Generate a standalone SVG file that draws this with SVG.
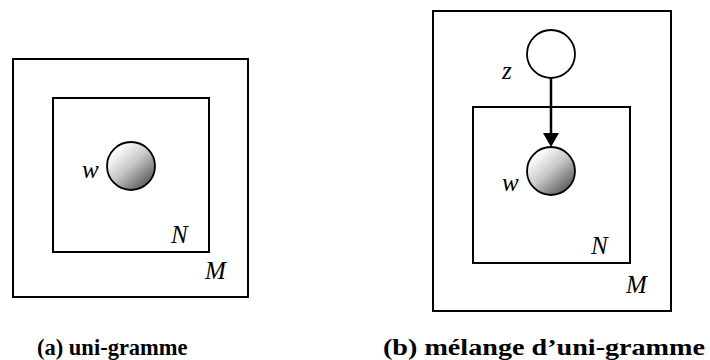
<svg xmlns="http://www.w3.org/2000/svg" width="710" height="360" viewBox="0 0 710 360">
<defs>
<linearGradient id="g" x1="0.2" y1="0.15" x2="0.85" y2="0.9">
<stop offset="0" stop-color="#ffffff"/>
<stop offset="0.45" stop-color="#c8c8c8"/>
<stop offset="1" stop-color="#5a5a5a"/>
</linearGradient>
</defs>
<style>
.plate{fill:none;stroke:#000;stroke-width:2}
.obs{fill:url(#g);stroke:#000;stroke-width:1.8}
.lat{fill:#fff;stroke:#000;stroke-width:1.8}
.lbl{font-family:"Liberation Serif","Times New Roman",serif;font-style:italic;font-size:25px;fill:#000}
.cap{font-family:"Liberation Serif","Times New Roman",serif;font-weight:bold;font-size:22.5px;fill:#000}
</style>
<g id="plateM_a"><rect class="plate" x="13" y="59" width="235" height="238"/><text class="lbl" x="205" y="279">M</text></g>
<g id="plateN_a"><rect class="plate" x="53" y="98" width="156" height="154"/><text class="lbl" x="171" y="243">N</text></g>
<g id="w_a"><circle class="obs" cx="131" cy="166" r="24"/><text class="lbl" x="82" y="178">w</text></g>
<g id="plateM_b"><rect class="plate" x="433" y="11" width="238" height="300"/><text class="lbl" x="626" y="293">M</text></g>
<g id="plateN_b"><rect class="plate" x="473" y="107" width="157" height="156"/><text class="lbl" x="591" y="254">N</text></g>
<g id="z_b"><circle class="lat" cx="551" cy="54" r="24"/><text class="lbl" x="502" y="79">z</text></g>
<g id="w_b"><circle class="obs" cx="551" cy="171" r="24"/><text class="lbl" x="502" y="191">w</text></g>
<g id="connectors">
<line x1="551" y1="78" x2="551" y2="134" stroke="#000" stroke-width="2.5"/>
<path d="M543,133 L559,133 L551,147 z" fill="#000"/>
</g>
<g id="captions">
<text class="cap" x="37" y="355">(a) uni-gramme</text>
<text class="cap" x="383" y="355" font-size="23.5" textLength="322" lengthAdjust="spacingAndGlyphs">(b) mélange d’uni-gramme</text>
</g>
</svg>
